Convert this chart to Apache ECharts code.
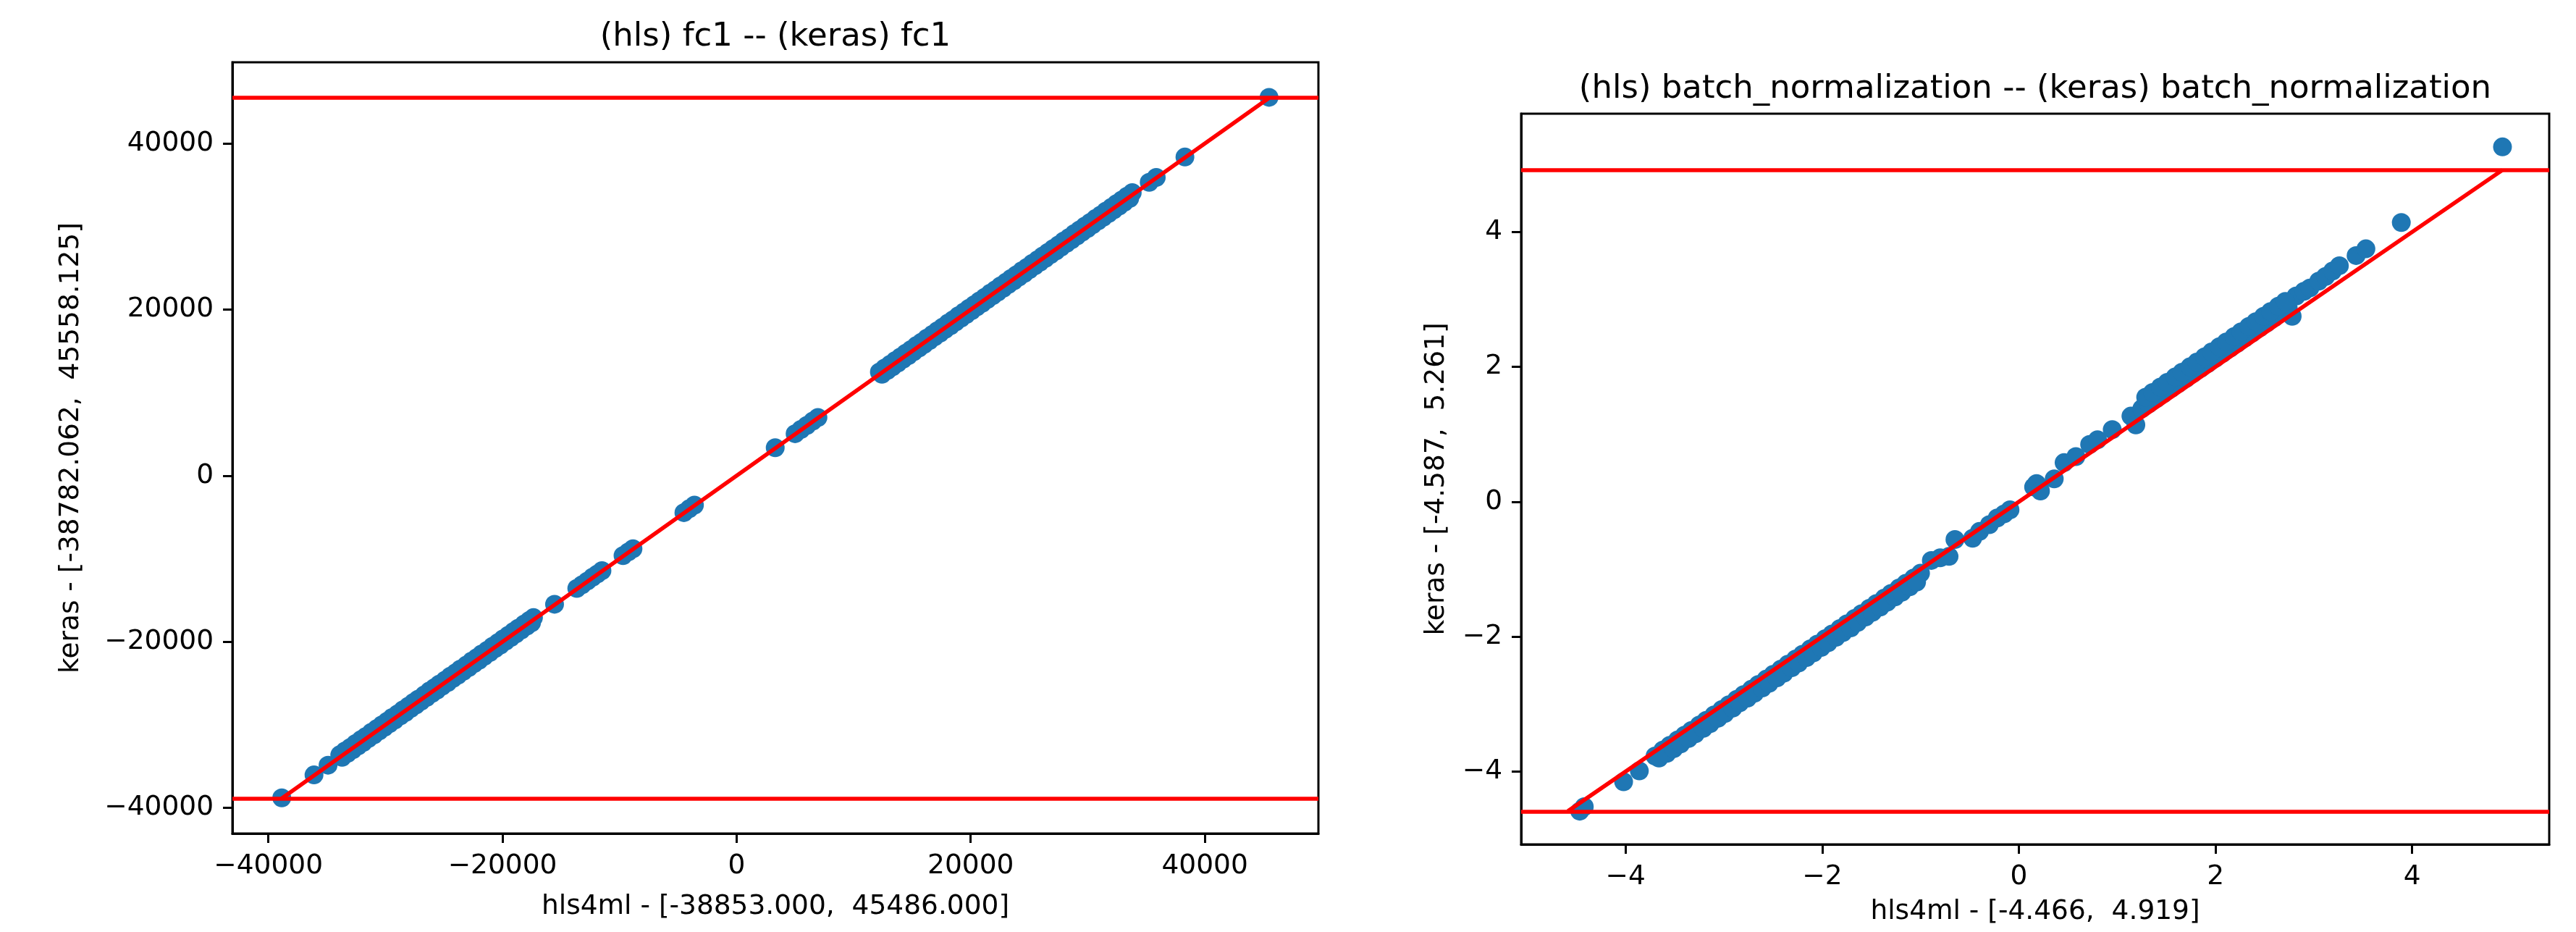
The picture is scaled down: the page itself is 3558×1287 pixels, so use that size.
<!DOCTYPE html>
<html><head><meta charset="utf-8">
<script src="https://cdn.jsdelivr.net/npm/echarts@6/dist/echarts.min.js"></script>
<style>html,body{margin:0;padding:0;background:#fff}#c{width:3558px;height:1287px}</style>
</head><body><div id="c"></div>
<script>
// ---- data ----
const fc1Hls = [-38853, -36100, -34900, -33900, -33450, -33000, -32550, -32100, -31700, -31200, -30750, -30300, -29850, -29450, -28950, -28500, -28050, -27600, -27200, -26700, -26250, -25800, -25400, -24900, -24450, -24000, -23600, -23100, -22650, -22200, -21800, -21300, -20850, -20400, -19950, -19500, -19050, -18650, -18150, -17700, -17350, -15550, -13650, -13200, -12750, -12300, -11900, -11500, -9700, -9250, -8850, -4500, -4050, -3600, 3300, 5000, 5500, 6000, 6500, 6950, 12200, 12650, 13100, 13550, 14000, 14450, 14900, 15350, 15800, 16250, 16700, 17150, 17600, 18050, 18500, 18950, 19400, 19850, 20300, 20750, 21200, 21650, 22100, 22550, 23000, 23450, 23900, 24350, 24800, 25250, 25700, 26150, 26600, 27050, 27500, 27950, 28400, 28850, 29300, 29750, 30200, 30650, 31100, 31550, 32000, 32450, 32900, 33350, 33800, 35250, 35850, 38300, 45486,
  -33700, -33230, -32780, -32330, -31900, -31450, -30980, -30520, -30080, -29650, -29200, -28720, -28280, -27830, -27400, -26950, -26480, -26020, -25600, -25150, -24680, -24220, -23800, -23350, -22880, -22420, -22000, -21550, -21080, -20620, -20180, -19720, -19280, -18850, -18400, -17920, -17520,
  12420, 12880, 13320, 13780, 14220, 14680, 15120, 15580, 16020, 16480, 16920, 17380, 17820, 18280, 18720, 19180, 19620, 20080, 20520, 20980, 21420, 21880, 22320, 22780, 23220, 23680, 24120, 24580, 25020, 25480, 25920, 26380, 26820, 27280, 27720, 28180, 28620, 29080, 29520, 29980, 30420, 30880, 31320, 31780, 32220, 32680, 33120, 33580];
const fc1Keras = [-38782.062, -36020, -34850, -33600, -33130, -32720, -32240, -31790, -31420, -30880, -30460, -29990, -29560, -29130, -28660, -28190, -27760, -27290, -26900, -26410, -25930, -25510, -25090, -24610, -24130, -23710, -23280, -22810, -22330, -21910, -21480, -21010, -20530, -20110, -19640, -19210, -18740, -18350, -17860, -17420, -17080, -15470, -13560, -13130, -12680, -12210, -11830, -11420, -9620, -9170, -8790, -4440, -3980, -3540, 3370, 5060, 5580, 6060, 6570, 7020, 12480, 12960, 13390, 13860, 14290, 14760, 15190, 15660, 16090, 16560, 16990, 17460, 17890, 18360, 18790, 19260, 19690, 20160, 20590, 21060, 21490, 21960, 22390, 22860, 23290, 23760, 24190, 24660, 25090, 25560, 25990, 26460, 26890, 27360, 27790, 28260, 28690, 29160, 29590, 30060, 30490, 30960, 31390, 31860, 32290, 32760, 33190, 33660, 34090, 35330, 35920, 38370, 45558.125,
  -33900, -33420, -32990, -32520, -32110, -31640, -31190, -30710, -30290, -29840, -29410, -28910, -28490, -28020, -27610, -27140, -26690, -26210, -25810, -25340, -24890, -24410, -24010, -23540, -23090, -22610, -22210, -21740, -21290, -20810, -20390, -19910, -19470, -19040, -18590, -18110, -17710,
  12220, 12670, 13120, 13570, 14020, 14470, 14920, 15370, 15820, 16270, 16720, 17170, 17620, 18070, 18520, 18970, 19420, 19870, 20320, 20770, 21220, 21670, 22120, 22570, 23020, 23470, 23920, 24370, 24820, 25270, 25720, 26170, 26620, 27070, 27520, 27970, 28420, 28870, 29320, 29770, 30220, 30670, 31120, 31570, 32020, 32470, 32920, 33380];

const bnHls = [-4.466, -4.42, -4.02, -3.86, -3.70, -3.62, -3.55, -3.47, -3.40, -3.33, -3.25, -3.18, -3.10, -3.02, -2.95, -2.87, -2.80, -2.72, -2.65, -2.57, -2.50, -2.42, -2.35, -2.27, -2.20, -2.12, -2.05, -1.97, -1.90, -1.82, -1.75, -1.67, -1.60, -1.52, -1.45, -1.37, -1.30, -1.22, -1.15, -1.07, -1.00, -0.89, -0.80, -0.71, -0.65, -0.47, -0.40, -0.30, -0.22, -0.15, -0.09, 0.15, 0.18, 0.22, 0.36, 0.46, 0.58, 0.72, 0.80, 0.95, 1.14, 1.19, 1.25, 1.32, 1.40, 1.47, 1.55, 1.62, 1.70, 1.77, 1.85, 1.92, 2.00, 2.07, 2.15, 2.22, 2.30, 2.37, 2.45, 2.52, 2.60, 2.67, 2.74, 2.78, 2.82, 2.90, 2.96, 3.05, 3.12, 3.19, 3.26, 3.43, 3.53, 3.89, 4.919,
  -3.66, -3.58, -3.51, -3.44, -3.36, -3.29, -3.21, -3.14, -3.06, -2.99, -2.91, -2.84, -2.76, -2.69, -2.61, -2.54, -2.46, -2.39, -2.31, -2.24, -2.16, -2.09, -2.01, -1.94, -1.86, -1.79, -1.71, -1.64, -1.56, -1.49, -1.41, -1.34, -1.26, -1.19, -1.11, -1.04,
  1.29, 1.36, 1.44, 1.51, 1.59, 1.66, 1.74, 1.81, 1.89, 1.96, 2.04, 2.11, 2.19, 2.26, 2.34, 2.41, 2.49, 2.56, 2.64, 2.71];
const bnKeras = [-4.587, -4.52, -4.15, -3.99, -3.77, -3.68, -3.61, -3.53, -3.46, -3.39, -3.31, -3.24, -3.16, -3.08, -3.01, -2.93, -2.86, -2.78, -2.71, -2.63, -2.56, -2.48, -2.41, -2.33, -2.26, -2.18, -2.11, -2.03, -1.96, -1.88, -1.81, -1.73, -1.66, -1.58, -1.51, -1.43, -1.36, -1.28, -1.21, -1.13, -1.06, -0.87, -0.83, -0.81, -0.56, -0.54, -0.44, -0.34, -0.24, -0.18, -0.12, 0.22, 0.27, 0.16, 0.34, 0.58, 0.67, 0.85, 0.92, 1.07, 1.27, 1.14, 1.38, 1.45, 1.53, 1.60, 1.68, 1.75, 1.83, 1.90, 1.98, 2.05, 2.13, 2.20, 2.28, 2.35, 2.43, 2.50, 2.58, 2.65, 2.73, 2.80, 2.87, 2.75, 3.05, 3.12, 3.17, 3.27, 3.34, 3.42, 3.50, 3.65, 3.75, 4.14, 5.261,
  -3.80, -3.73, -3.66, -3.59, -3.51, -3.44, -3.36, -3.29, -3.21, -3.14, -3.06, -2.98, -2.91, -2.84, -2.76, -2.69, -2.61, -2.54, -2.46, -2.39, -2.31, -2.24, -2.16, -2.09, -2.01, -1.94, -1.87, -1.79, -1.71, -1.64, -1.56, -1.49, -1.41, -1.34, -1.26, -1.19,
  1.55, 1.62, 1.70, 1.77, 1.85, 1.92, 2.00, 2.07, 2.15, 2.22, 2.30, 2.37, 2.45, 2.52, 2.60, 2.67, 2.75, 2.82, 2.90, 2.97];

const fc1Ticks = [-40000, -20000, 0, 20000, 40000];
const bnTicks = [-4, -2, 0, 2, 4];

const titles = ['(hls) fc1 -- (keras) fc1', '(hls) batch_normalization -- (keras) batch_normalization'];
const xNames = ['hls4ml - [-38853.000,  45486.000]', 'hls4ml - [-4.466,  4.919]'];
const yNames = ['keras - [-38782.062,  45558.125]', 'keras - [-4.587,  5.261]'];

// ---- layout / style ----
const FONT = 'DejaVu Sans';
const layouts = [
  {grid: {left: 321, top: 86, width: 1500, height: 1065}, title: [1071, 51], xGap: 82, yGap: 204},
  {grid: {left: 2101, top: 157, width: 1420, height: 1009}, title: [2811, 123], xGap: 74, yGap: 98}
];
const panels = [
  {hls: fc1Hls, keras: fc1Keras, ticks: fc1Ticks},
  {hls: bnHls, keras: bnKeras, ticks: bnTicks}
];

function lim(arr) {
  const lo = Math.min(...arr), hi = Math.max(...arr), m = (hi - lo) * 0.05;
  return [lo - m, hi + m];
}
const fmt = v => String(v).replace('-', '\u2212');

const option = {
  animation: false,
  backgroundColor: '#fff',
  title: [], grid: [], xAxis: [], yAxis: [], series: []
};

panels.forEach((p, i) => {
  const L = layouts[i];
  const mn = Math.min(Math.min(...p.hls), Math.min(...p.keras));
  const mx = Math.max(...p.hls);
  const xl = lim(p.hls.concat([mn, mx]));
  const yl = lim(p.keras.concat([mn, mx]));
  option.title.push({
    text: titles[i], left: L.title[0], top: L.title[1], padding: 0,
    textAlign: 'center', textVerticalAlign: 'middle',
    textStyle: {fontFamily: FONT, fontSize: 45, fontWeight: 'normal', color: '#000'}
  });
  option.grid.push(Object.assign({show: true, borderColor: '#000', borderWidth: 3, backgroundColor: '#fff'}, L.grid));
  const axisCommon = (ticks) => ({
    type: 'value', splitLine: {show: false},
    axisLine: {show: true, onZero: false, lineStyle: {color: '#000', width: 3}},
    axisTick: {show: true, inside: false, length: 13, lineStyle: {color: '#000', width: 3}, customValues: ticks},
    axisLabel: {show: true, margin: 26, color: '#000', fontFamily: FONT, fontSize: 37.5, formatter: fmt, customValues: ticks},
    nameLocation: 'middle',
    nameTextStyle: {fontFamily: FONT, fontSize: 37.5, color: '#000'}
  });
  option.xAxis.push(Object.assign(axisCommon(p.ticks), {
    gridIndex: i, position: 'bottom', min: xl[0], max: xl[1], name: xNames[i], nameGap: L.xGap
  }));
  option.yAxis.push(Object.assign(axisCommon(p.ticks), {
    gridIndex: i, position: 'left', min: yl[0], max: yl[1], name: yNames[i], nameGap: L.yGap, nameRotate: 90
  }));
  option.series.push({
    type: 'scatter', xAxisIndex: i, yAxisIndex: i, symbol: 'circle', symbolSize: 26,
    itemStyle: {color: '#1f77b4', opacity: 1},
    data: p.hls.map((h, k) => [h, p.keras[k]]), silent: true
  });
  option.series.push({
    type: 'line', xAxisIndex: i, yAxisIndex: i, symbol: 'none', silent: true,
    lineStyle: {color: '#ff0000', width: 5.6},
    data: [[mn, mn], [mx, mx]],
    markLine: {
      symbol: 'none', silent: true, label: {show: false},
      lineStyle: {color: '#ff0000', width: 5.6, type: 'solid'},
      data: [{yAxis: mn}, {yAxis: mx}]
    }
  });
});

const chart = echarts.init(document.getElementById('c'), null, {renderer: 'canvas'});
chart.setOption(option);
</script>
</body></html>
